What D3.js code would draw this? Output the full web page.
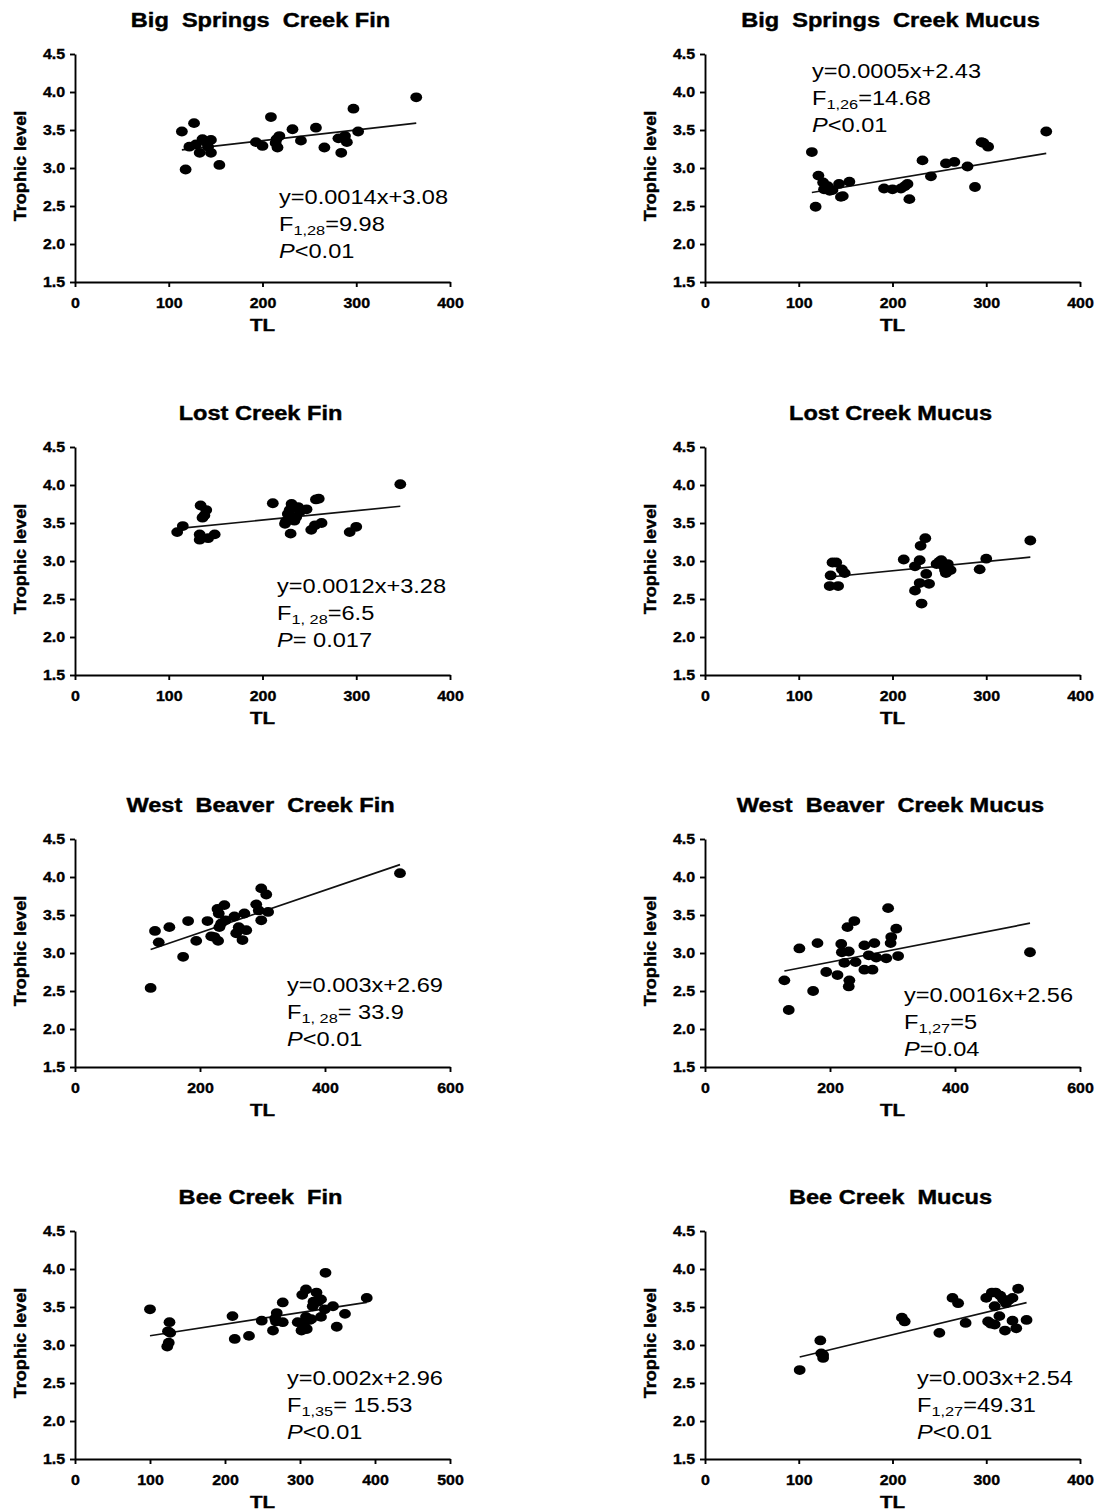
<!DOCTYPE html>
<html>
<head>
<meta charset="utf-8">
<script src="https://cdn.jsdelivr.net/npm/d3@7"></script>
<style>
  body { margin: 0; background: #fff; }
  svg { display: block; font-family: "Liberation Sans", Arial, sans-serif; }
</style>
</head>
<body>
<div id="chart"></div>
<script>
// ---- data ----
const titles = [
  "Big  Springs  Creek Fin", "Big  Springs  Creek Mucus",
  "Lost Creek Fin", "Lost Creek Mucus",
  "West  Beaver  Creek Fin", "West  Beaver  Creek Mucus",
  "Bee Creek  Fin", "Bee Creek  Mucus"
];
const xMaxes = [400, 400, 400, 400, 600, 600, 500, 400];
const xSteps = [100, 100, 100, 100, 200, 200, 100, 100];
const yTicks = [1.5, 2.0, 2.5, 3.0, 3.5, 4.0, 4.5];

const bsFinTL = [114,127,118,122,129,133,136,145,145,142,154,193,200,209,215,218,216,232,241,257,266,281,288,290,284,297,302,364,140,214];
const bsFinTroph = [3.48,3.59,2.98,3.28,3.31,3.20,3.38,3.37,3.20,3.28,3.04,3.34,3.29,3.67,3.38,3.42,3.27,3.51,3.36,3.53,3.27,3.39,3.42,3.34,3.20,3.78,3.48,3.93,3.34,3.33];

const bsMucTL = [114,118,121,126,127,133,136,143,145,147,154,191,200,209,213,216,218,232,241,257,266,280,288,295,302,364,131,297];
const bsMucTroph = [3.21,2.49,2.90,2.81,2.72,2.70,2.71,2.79,2.62,2.63,2.82,2.73,2.72,2.73,2.76,2.79,2.59,3.10,2.89,3.06,3.08,3.02,2.75,3.34,3.28,3.48,2.76,3.33];

const lostFinTL = [109,115,134,140,136,133,133,142,149,211,224,227,230,231,236,234,238,240,247,252,256,257,263,293,300,347,260,229,225,138];
const lostFinTroph = [3.38,3.46,3.73,3.67,3.57,3.35,3.28,3.30,3.35,3.76,3.49,3.62,3.36,3.75,3.58,3.53,3.71,3.65,3.68,3.41,3.47,3.81,3.50,3.38,3.45,4.01,3.82,3.67,3.52,3.60];

const lostMucTL = [133,134,136,140,142,146,149,212,224,224,229,230,229,231,235,236,239,247,252,256,257,259,262,293,300,347,254,250];
const lostMucTroph = [2.67,2.81,2.98,2.98,2.67,2.89,2.84,3.02,2.93,2.61,3.01,3.20,2.71,2.44,3.30,2.83,2.70,2.96,3.01,2.88,2.84,2.96,2.88,2.89,3.03,3.27,2.94,2.99];

const wbFinTL = [121,128,134,151,173,181,194,212,218,223,228,230,231,229,239,241,255,258,262,268,271,274,290,298,306,298,294,309,520,234];
const wbFinTroph = [2.54,3.29,3.14,3.34,2.95,3.42,3.16,3.42,3.22,3.21,3.58,3.52,3.34,3.16,3.63,3.43,3.48,3.26,3.34,3.17,3.52,3.30,3.64,3.85,3.77,3.43,3.56,3.54,4.05,3.39];

const wbMucTL = [127,134,151,173,180,194,212,218,219,223,228,230,231,230,239,241,255,255,262,268,271,274,290,293,298,297,306,309,520];
const wbMucTroph = [2.64,2.25,3.06,2.50,3.13,2.75,2.71,3.12,3.01,2.87,3.34,3.02,2.64,2.56,3.42,2.88,3.10,2.78,2.97,2.78,3.13,2.94,2.93,3.59,3.21,3.13,3.32,2.96,3.01];

const beeFinTL = [100,126,124,127,125,123,210,213,232,249,264,267,269,268,277,277,297,303,302,305,308,308,309,313,317,315,322,324,328,328,333,334,344,349,360,389,318];
const beeFinTroph = [3.47,3.30,3.18,3.16,3.03,2.98,3.38,3.08,3.12,3.32,3.19,3.35,3.42,3.31,3.56,3.30,3.30,3.66,3.19,3.27,3.73,3.37,3.21,3.33,3.51,3.34,3.69,3.57,3.60,3.37,3.47,3.95,3.51,3.24,3.41,3.62,3.57];

const beeMucTL = [101,123,124,126,126,210,213,250,264,270,278,300,302,305,306,309,310,309,314,315,318,321,320,324,328,328,332,334,343];
const beeMucTroph = [2.67,3.06,2.89,2.83,2.87,3.36,3.31,3.16,3.62,3.55,3.29,3.62,3.31,3.28,3.69,3.51,3.69,3.27,3.38,3.65,3.60,3.55,3.19,3.59,3.62,3.32,3.22,3.74,3.33];

// fitted lines as drawn in the figure
const fitSlope = [0.0014, 0.00206, 0.00124, 0.00122, 0.0028, 0.0016, 0.00152, 0.00296];
const fitIntercept = [3.08, 2.443, 3.29, 2.627, 2.707, 2.56, 2.97, 2.543];

// printed statistics
const eqText = ["y=0.0014x+3.08", "y=0.0005x+2.43", "y=0.0012x+3.28", null, "y=0.003x+2.69", "y=0.0016x+2.56", "y=0.002x+2.96", "y=0.003x+2.54"];
const fDf = ["1,28", "1,26", "1, 28", null, "1, 28", "1,27", "1,35", "1,27"];
const fVal = ["=9.98", "=14.68", "=6.5", null, "= 33.9", "=5", "= 15.53", "=49.31"];
const pVal = ["<0.01", "<0.01", "= 0.017", null, "<0.01", "=0.04", "<0.01", "<0.01"];

const seriesTL = [bsFinTL, bsMucTL, lostFinTL, lostMucTL, wbFinTL, wbMucTL, beeFinTL, beeMucTL];
const seriesTroph = [bsFinTroph, bsMucTroph, lostFinTroph, lostMucTroph, wbFinTroph, wbMucTroph, beeFinTroph, beeMucTroph];

// ---- layout ----
const width = 1107, height = 1511;
const SX = 1.21; // the figure is stretched horizontally
const TICK_SX = 1.1;
const colX = [75, 705];
const rowBottom = [282, 675, 1067, 1459];
const plotW = 375, plotH = 228;
const annotPos = [[204, -78], [107, -204], [202, -82], null, [212, -75], [199, -65], [212, -74], [212, -74]];

const svg = d3.select("#chart").append("svg")
  .attr("width", width)
  .attr("height", height);

svg.append("rect").attr("width", width).attr("height", height).attr("fill", "#fff");

titles.forEach(function (title, i) {
  const left = colX[i % 2];
  const bottom = rowBottom[Math.floor(i / 2)];
  const top = bottom - plotH;

  const x = d3.scaleLinear().domain([0, xMaxes[i]]).range([left, left + plotW]);
  const y = d3.scaleLinear().domain([1.5, 4.5]).range([bottom, top]);

  const g = svg.append("g");

  // axes
  const xAxis = d3.axisBottom(x)
    .tickValues(d3.range(0, xMaxes[i] + 1, xSteps[i]))
    .tickSize(5).tickSizeOuter(0).tickPadding(10.5);
  const yAxis = d3.axisLeft(y)
    .tickValues(yTicks).tickFormat(d3.format(".1f"))
    .tickSize(5).tickSizeOuter(0).tickPadding(4);

  const gx = g.append("g").attr("transform", `translate(0,${bottom})`).call(xAxis);
  const gy = g.append("g").attr("transform", `translate(${left},0)`).call(yAxis);

  [gx, gy].forEach(function (ax) {
    ax.select(".domain").attr("stroke", "#000").attr("stroke-width", 1.9);
    ax.selectAll(".tick line").attr("stroke", "#000").attr("stroke-width", 1.9);
    ax.selectAll(".tick text")
      .attr("fill", "#000")
      .attr("stroke", "#000")
      .attr("stroke-width", 0.35)
      .attr("font-size", 14.5)
      .attr("font-weight", "bold")
      .attr("font-family", "Liberation Sans, Arial, sans-serif")
      .attr("transform", `scale(${TICK_SX},1)`);
  });

  // regression line over the data range
  const ext = d3.extent(seriesTL[i]);
  const line = d3.line().x(d => x(d)).y(d => y(fitSlope[i] * d + fitIntercept[i]));
  g.append("path")
    .attr("d", line(ext))
    .attr("fill", "none")
    .attr("stroke", "#111")
    .attr("stroke-width", 1.7);

  // points
  g.selectAll(".dot")
    .data(seriesTL[i].map((v, k) => [v, seriesTroph[i][k]]))
    .enter()
    .append("ellipse")
    .attr("class", "dot")
    .attr("cx", d => x(d[0]))
    .attr("cy", d => y(d[1]))
    .attr("rx", 5.9)
    .attr("ry", 4.9)
    .attr("fill", "#000");

  // title
  g.append("text")
    .attr("transform", `translate(${left + plotW / 2 - 2},${top - 27}) scale(${SX},1)`)
    .attr("text-anchor", "middle")
    .attr("font-size", 19.5)
    .attr("font-weight", "bold")
    .attr("stroke", "#000")
    .attr("stroke-width", 0.4)
    .style("white-space", "pre")
    .text(title);

  // axis titles
  g.append("text")
    .attr("transform", `translate(${left + plotW / 2},${bottom + 49}) scale(${SX},1)`)
    .attr("text-anchor", "middle")
    .attr("font-size", 17)
    .attr("font-weight", "bold")
    .attr("stroke", "#000")
    .attr("stroke-width", 0.4)
    .text("TL");

  g.append("text")
    .attr("transform", `translate(${left - 49},${(top + bottom) / 2 - 2}) rotate(-90) scale(1.13,1)`)
    .attr("text-anchor", "middle")
    .attr("font-size", 16)
    .attr("font-weight", "bold")
    .attr("stroke", "#000")
    .attr("stroke-width", 0.4)
    .text("Trophic level");

  // statistics
  if (eqText[i]) {
    const ax0 = left + annotPos[i][0];
    const ay0 = bottom + annotPos[i][1];
    const stat = g.append("g")
      .attr("font-size", 19.5)
      .attr("fill", "#000");
    stat.append("text")
      .attr("transform", `translate(${ax0},${ay0}) scale(${SX},1)`)
      .text(eqText[i]);
    const f = stat.append("text")
      .attr("transform", `translate(${ax0},${ay0 + 27}) scale(${SX},1)`)
      .style("white-space", "pre");
    f.append("tspan").text("F");
    f.append("tspan").attr("font-size", 13.5).attr("dy", 4).text(fDf[i]);
    f.append("tspan").attr("dy", -4).text(fVal[i]);
    const p = stat.append("text")
      .attr("transform", `translate(${ax0},${ay0 + 54}) scale(${SX},1)`)
      .style("white-space", "pre");
    p.append("tspan").attr("font-style", "italic").text("P");
    p.append("tspan").text(pVal[i]);
  }
});
</script>
</body>
</html>
